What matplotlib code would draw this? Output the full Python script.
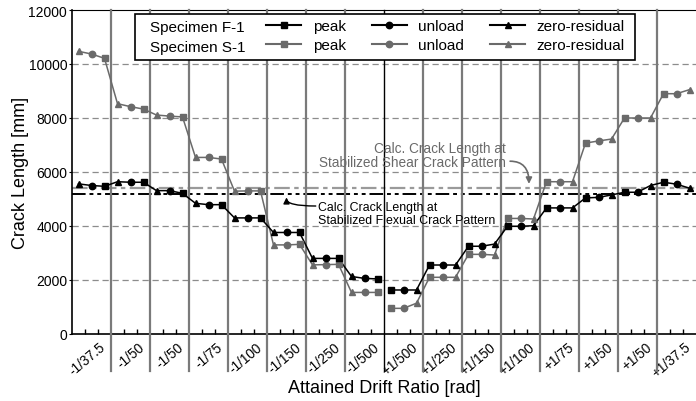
import numpy as np
import matplotlib
matplotlib.use('Agg')
import matplotlib.pyplot as plt
from matplotlib.lines import Line2D
from matplotlib.patches import Rectangle

plt.rcParams['font.family'] = ['Liberation Sans', 'DejaVu Sans']

# Data (crack length in mm), one value per drift group
groups = ['-1/37.5', '-1/50', '-1/50', '-1/75', '-1/100', '-1/150', '-1/250', '-1/500',
          '+1/500', '+1/250', '+1/150', '+1/100', '+1/75', '+1/50', '+1/50', '+1/37.5']

f1_peak = [5470, 5620, 5210, 4790, 4300, 3760, 2800, 2040,
           1630, 2555, 3250, 3990, 4670, 5040, 5250, 5620]
f1_unload = [5500, 5620, 5310, 4790, 4300, 3760, 2800, 2060,
             1630, 2555, 3250, 3990, 4670, 5060, 5250, 5550]
f1_zero = [5560, 5640, 5310, 4840, 4300, 3760, 2800, 2130,
           1630, 2555, 3330, 4010, 4670, 5150, 5500, 5400]

s1_peak = [10210, 8330, 8040, 6480, 5300, 3320, 2580, 1540,
           950, 2100, 2950, 4280, 5640, 7070, 8000, 8900]
s1_unload = [10370, 8420, 8070, 6540, 5300, 3300, 2570, 1540,
             950, 2100, 2950, 4280, 5640, 7150, 8000, 8900]
s1_zero = [10470, 8530, 8110, 6540, 5290, 3300, 2560, 1540,
           1140, 2100, 2925, 4260, 5640, 7220, 8000, 9050]

calc_flexural = 5200
calc_shear = 5390

ng = len(groups)
half = ng // 2


def positions(kind):
    # negative side: zero, unload, peak ; positive side: peak, unload, zero
    xs = []
    for i in range(ng):
        if kind == 'unload':
            xs.append(3 * i + 1)
        elif kind == 'peak':
            xs.append(3 * i + 2 if i < half else 3 * i)
        else:
            xs.append(3 * i if i < half else 3 * i + 2)
    return np.array(xs)


def series(peak, unload, zero):
    x = np.concatenate([positions('peak'), positions('unload'), positions('zero')])
    y = np.concatenate([peak, unload, zero])
    order = np.argsort(x)
    return x[order], y[order]


fig = plt.figure(figsize=(6.96, 4.02), dpi=100)
ax = fig.add_axes([72 / 696, 67 / 402, 624 / 696, 324 / 402])

black = '#000000'
gray = '#6a6a6a'

# horizontal grid
for v in [2000, 4000, 6000, 8000, 10000]:
    ax.axhline(v, color='#8c8c8c', lw=0.9, dashes=(5, 3), zorder=1)

# reference lines
ax.axhline(calc_shear, color='#9a9a9a', lw=1.6, dashes=(7, 2, 2, 2), zorder=2)
ax.axhline(calc_flexural, color=black, lw=1.4, dashes=(7, 2, 2, 2, 2, 2), zorder=2)

# group separators
for i in range(1, ng):
    xs = 3 * i - 0.5
    if i == half:
        ax.axvline(xs, ymin=-0.114, ymax=1, color=black, lw=1.0, clip_on=False, zorder=3)
    else:
        ax.axvline(xs, ymin=-0.114, ymax=1, color='#7a7a7a', lw=1.6, clip_on=False, zorder=3)

ms = 4.6
for (pk, ul, zr), col in [((s1_peak, s1_unload, s1_zero), gray),
                          ((f1_peak, f1_unload, f1_zero), black)]:
    x, y = series(pk, ul, zr)
    neg = x < 3 * half
    ax.plot(x[neg], y[neg], color=col, lw=1.1, zorder=4)
    ax.plot(x[~neg], y[~neg], color=col, lw=1.1, zorder=4)
    ax.plot(positions('peak'), pk, 's', color=col, ms=ms, zorder=5)
    ax.plot(positions('unload'), ul, 'o', color=col, ms=ms, zorder=5)
    ax.plot(positions('zero'), zr, '^', color=col, ms=ms, zorder=5)

ax.set_xlim(-0.5, 3 * ng - 0.5)
ax.set_ylim(0, 12000)
ax.set_yticks(range(0, 12001, 2000))
ax.tick_params(axis='y', labelsize=10, length=2, pad=1.5)

ax.set_xticks([3 * i + 1.6 for i in range(ng)])
ax.set_xticklabels(groups, rotation=40, ha='right', va='top', rotation_mode='anchor', fontsize=9.8)
ax.set_xticks([3 * i + k for i in range(ng) for k in (0.5, 1.5)], minor=True)
ax.tick_params(axis='x', which='major', length=0, pad=4)
ax.tick_params(axis='x', which='minor', direction='in', length=3.5, width=1)

ax.spines['right'].set_visible(False)
ax.spines['left'].set_linewidth(1.2)
ax.spines['bottom'].set_linewidth(1.2)

ax.set_ylabel('Crack Length [mm]', fontsize=13, va='center')
ax.yaxis.set_label_coords(-0.083, 0.5)
ax.set_xlabel('Attained Drift Ratio [rad]', fontsize=13, va='center')
ax.xaxis.set_label_coords(0.5, -0.164)

# annotations
ax.text(32.9, 6630, 'Calc. Crack Length at\nStabilized Shear Crack Pattern',
        ha='right', va='center', fontsize=9.8, color=gray, linespacing=1.05, zorder=6)
ax.annotate('', xy=(34.65, 5560), xytext=(33.2, 6400),
            arrowprops=dict(arrowstyle='-|>', color=gray, lw=1.2,
                            connectionstyle='angle3,angleA=0,angleB=90',
                            shrinkA=0, shrinkB=0, mutation_scale=9), zorder=6)
ax.text(18.4, 4460, 'Calc. Crack Length at\nStabilized Flexual Crack Pattern',
        ha='left', va='center', fontsize=8.9, color=black, linespacing=1.1, zorder=6)
ax.annotate('', xy=(16.0, 5060), xytext=(18.25, 4740),
            arrowprops=dict(arrowstyle='-|>', color=black, lw=1.0,
                            connectionstyle='angle3,angleA=0,angleB=90',
                            shrinkA=0, shrinkB=0, mutation_scale=9), zorder=6)

# legend
handles = [
    Line2D([], [], color=black, marker='s', ms=ms, lw=1.5),
    Line2D([], [], color=gray, marker='s', ms=ms, lw=1.5),
    Line2D([], [], color=black, marker='o', ms=ms, lw=1.5),
    Line2D([], [], color=gray, marker='o', ms=ms, lw=1.5),
    Line2D([], [], color=black, marker='^', ms=ms, lw=1.5),
    Line2D([], [], color=gray, marker='^', ms=ms, lw=1.5),
]
labels = ['peak', 'peak', 'unload', 'unload', 'zero-residual', 'zero-residual']
leg = fig.legend(handles, labels, ncol=3, loc='upper left', frameon=False,
                 bbox_to_anchor=(266 / 696, 1 - 20 / 402), borderpad=0, borderaxespad=0,
                 handlelength=2.3, handletextpad=0.75, columnspacing=1.7,
                 labelspacing=0.35, fontsize=11)
fig.text(150 / 696, 1 - 28 / 402, 'Specimen F-1', fontsize=11, va='center')
fig.text(150 / 696, 1 - 48 / 402, 'Specimen S-1', fontsize=11, va='center')
fig.add_artist(Rectangle((135 / 696, 1 - 61 / 402), 500 / 696, 46 / 402,
                         transform=fig.transFigure, facecolor='white',
                         edgecolor=black, lw=1.2, zorder=0.5))

fig.savefig('out.png', dpi=100)
